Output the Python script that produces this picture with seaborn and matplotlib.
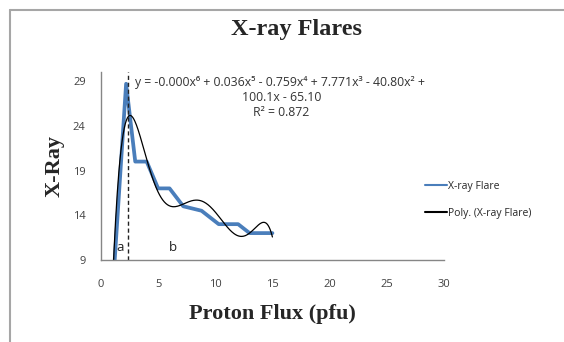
import matplotlib
matplotlib.use("Agg")
import matplotlib.pyplot as plt
from matplotlib.lines import Line2D
import seaborn as sns
import numpy as np
import pandas as pd

# X-ray flare vs proton flux
flux = [1.0, 2.2, 3.0, 4.0, 5.0, 6.0, 7.2, 8.8, 10.3, 11.2, 12.0, 13.0, 14.0, 15.0]
xray = [5.0, 28.7, 20.0, 20.0, 17.0, 17.0, 15.0, 14.5, 13.0, 13.0, 13.0, 12.0, 12.0, 12.0]

x_ticks = [0, 5, 10, 15, 20, 25, 30]
y_ticks = [9, 14, 19, 24, 29]

eq_text = ("y = -0.000x\u2076 + 0.036x\u2075 - 0.759x\u2074 + 7.771x\u00b3 - 40.80x\u00b2 + \n"
           "100.1x - 65.10\nR\u00b2 = 0.872")

sns.set_style("white")
plt.rcParams["font.family"] = ["Open Sans", "DejaVu Sans"]

df = pd.DataFrame({"flux": flux, "xray": xray})

# 6th order polynomial trendline, like excel does
coef = np.polyfit(df["flux"], df["xray"], 6)
xs = np.linspace(min(flux), max(flux), 300)
trend = pd.DataFrame({"flux": xs, "xray": np.polyval(coef, xs)})

fig = plt.figure(figsize=(5.64, 3.42), dpi=100)
ax = fig.add_axes([0.179, 0.240, 0.608, 0.549])

sns.lineplot(data=df, x="flux", y="xray", ax=ax, color="#4a7ebb", lw=2.7,
             label="X-ray Flare", solid_joinstyle="round", solid_capstyle="round")
sns.lineplot(data=trend, x="flux", y="xray", ax=ax, color="black", lw=0.9,
             label="Poly. (X-ray Flare)")

ax.axvline(2.4, color="#222222", lw=1.0, ls=(0, (3, 2)))

ax.set_xlim(0, 30)
ax.set_ylim(9, 30)
ax.set_xticks(x_ticks)
ax.set_yticks(y_ticks)
ax.tick_params(axis="both", direction="out", length=4, width=1, color="#868686",
               labelsize=8, labelcolor="#404040", pad=7)
ax.tick_params(axis="x", pad=10)
for s in ["top", "right"]:
    ax.spines[s].set_visible(False)
for s in ["left", "bottom"]:
    ax.spines[s].set_color("#868686")
    ax.spines[s].set_linewidth(1.0)

ax.set_xlabel("Proton Flux (pfu)", family="Liberation Serif", fontweight="bold",
              fontsize=16, labelpad=10)
ax.set_ylabel("X-Ray", family="Liberation Serif", fontweight="bold",
              fontsize=16, labelpad=6)

fig.text(0.525, 0.913, "X-ray Flares", family="Liberation Serif", fontweight="bold",
         fontsize=17.5, ha="center", va="center")

ax.text(0.526, 0.982, eq_text, transform=ax.transAxes, ha="center", va="top",
        fontsize=8.8, color="#333333", linespacing=1.22,
        family=["Open Sans", "DejaVu Sans"])

ax.text(1.7, 10.4, "a", fontsize=9.5, ha="center", va="center", color="#222222")
ax.text(6.3, 10.4, "b", fontsize=9.5, ha="center", va="center", color="#222222")

leg = ax.legend(loc="center left", bbox_to_anchor=(0.944, 0.32), frameon=False,
                borderaxespad=0, borderpad=0,
                fontsize=7.5, handlelength=2.1, handletextpad=0.15, labelspacing=1.55)
for h in leg.get_lines():
    h.set_linewidth(1.5)

# chart area border (top and left edges visible)
fig.add_artist(Line2D([10 / 564, 1.0], [1 - 10 / 342, 1 - 10 / 342],
                      color="#a6a6a6", lw=1.5))
fig.add_artist(Line2D([10 / 564, 10 / 564], [0.0, 1 - 10 / 342],
                      color="#a6a6a6", lw=1.5))

fig.savefig("out.png", dpi=100)
